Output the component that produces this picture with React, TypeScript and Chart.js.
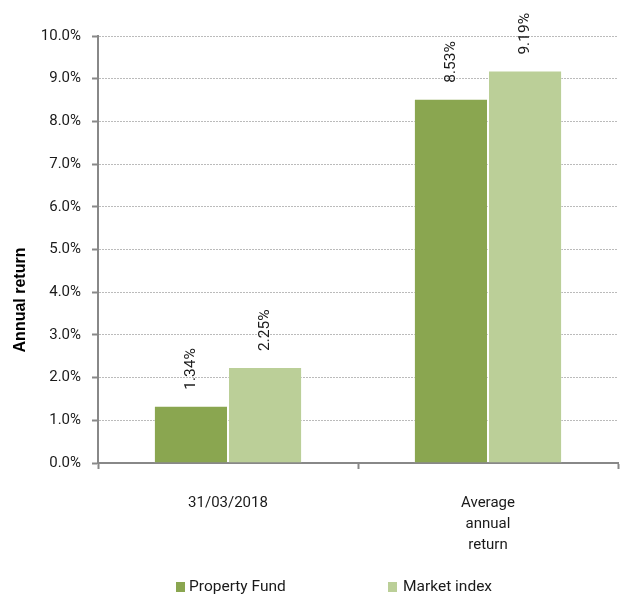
import React, { useEffect, useRef } from "react";
import { Chart, registerables } from "chart.js";

Chart.register(...registerables);

const categories: (string | string[])[] = ["31/03/2018", ["Average", "annual", "return"]];
const seriesNames = ["Property Fund", "Market index"];
const propertyFund = [1.34, 8.53];
const marketIndex = [2.25, 9.19];
const seriesColors = ["#8AA650", "#BBCF98"];
const yTicks = [0, 1, 2, 3, 4, 5, 6, 7, 8, 9, 10];
const yTitle = "Annual return";

const FONT = "Roboto, 'Noto Sans', sans-serif";

const dataLabelPlugin = {
  id: "rotatedLabels",
  afterDatasetsDraw(chart: any) {
    const ctx = chart.ctx;
    ctx.save();
    ctx.font = `15.5px ${FONT}`;
    ctx.fillStyle = "#1a1a1a";
    ctx.textAlign = "left";
    ctx.textBaseline = "middle";
    chart.data.datasets.forEach((ds: any, di: number) => {
      const meta = chart.getDatasetMeta(di);
      meta.data.forEach((bar: any, i: number) => {
        const v = ds.data[i] as number;
        ctx.save();
        ctx.translate(bar.x, bar.y - 16);
        ctx.rotate(-Math.PI / 2);
        ctx.fillText(v.toFixed(2) + "%", 0, 0);
        ctx.restore();
      });
    });
    ctx.restore();
  },
};

const titleAndLegendPlugin = {
  id: "titleAndLegend",
  afterDraw(chart: any) {
    const ctx = chart.ctx;
    ctx.save();
    // y axis title, centred on the canvas height
    ctx.font = `bold 16px 'Liberation Sans', Arial, sans-serif`;
    ctx.fillStyle = "#000";
    ctx.textAlign = "center";
    ctx.textBaseline = "middle";
    ctx.translate(21, 300);
    ctx.rotate(-Math.PI / 2);
    ctx.fillText(yTitle, 0, 0);
    ctx.restore();

    ctx.save();
    ctx.font = `15.5px ${FONT}`;
    ctx.textBaseline = "middle";
    ctx.textAlign = "left";
    const starts = [176, 388];
    const textOff = [13, 15];
    const y = 587;
    chart.data.datasets.forEach((ds: any, i: number) => {
      const x = starts[i];
      ctx.fillStyle = ds.backgroundColor;
      ctx.fillRect(x, y - 5, 9, 10);
      ctx.fillStyle = "#1a1a1a";
      ctx.fillText(ds.label, x + textOff[i], y);
    });
    ctx.restore();
  },
};

export default function App() {
  const ref = useRef<HTMLCanvasElement | null>(null);
  useEffect(() => {
    if (!ref.current) return;
    const chart = new Chart(ref.current, {
      type: "bar",
      data: {
        labels: categories,
        datasets: [
          {
            label: seriesNames[0],
            data: propertyFund,
            backgroundColor: seriesColors[0],
            borderColor: "rgba(255,255,255,0.3)",
            borderWidth: 1,
            barPercentage: 1,
            categoryPercentage: 0.57,
          },
          {
            label: seriesNames[1],
            data: marketIndex,
            backgroundColor: seriesColors[1],
            borderColor: "rgba(255,255,255,0.3)",
            borderWidth: 1,
            barPercentage: 1,
            categoryPercentage: 0.57,
          },
        ],
      },
      options: {
        animation: false,
        responsive: false,
        maintainAspectRatio: false,
        layout: { padding: { top: 36, right: 4, bottom: 31, left: 0 } },
        plugins: {
          legend: { display: false },
          tooltip: { enabled: false },
        },
        scales: {
          x: {
            offset: true,
            grid: {
              display: true,
              drawOnChartArea: false,
              drawTicks: true,
              offset: true,
              tickLength: 6,
              tickColor: "#888",
              tickWidth: 2,
            },
            border: { display: true, color: "#888", width: 2 },
            ticks: {
              color: "#1a1a1a",
              font: { family: FONT, size: 15, lineHeight: 1.4 },
              padding: 24,
              maxRotation: 0,
            },
            afterFit(scale: any) {
              scale.height = 100;
            },
          },
          y: {
            min: 0,
            max: 10,
            afterBuildTicks(scale: any) {
              scale.ticks = yTicks.map((v) => ({ value: v }));
            },
            grid: {
              color: "#bbb",
              lineWidth: 1,
              tickLength: 6,
              tickColor: "#888",
              tickWidth: 2,
            },
            border: { display: true, color: "#888", width: 2, dash: [2, 1] },
            ticks: {
              color: "#1a1a1a",
              font: { family: FONT, size: 15 },
              padding: 11,
              callback: (v: any) => Number(v).toFixed(1) + "%",
            },
            title: { display: false },
            afterFit(scale: any) {
              scale.width = 98;
            },
          },
        },
      },
      plugins: [dataLabelPlugin, titleAndLegendPlugin],
    });
    return () => chart.destroy();
  }, []);
  return (
    <div style={{ position: "absolute", left: 0, top: 0, width: 622, height: 594, background: "#fff" }}>
      <canvas ref={ref} width={622} height={594} style={{ display: "block", width: 622, height: 594 }} />
    </div>
  );
}
